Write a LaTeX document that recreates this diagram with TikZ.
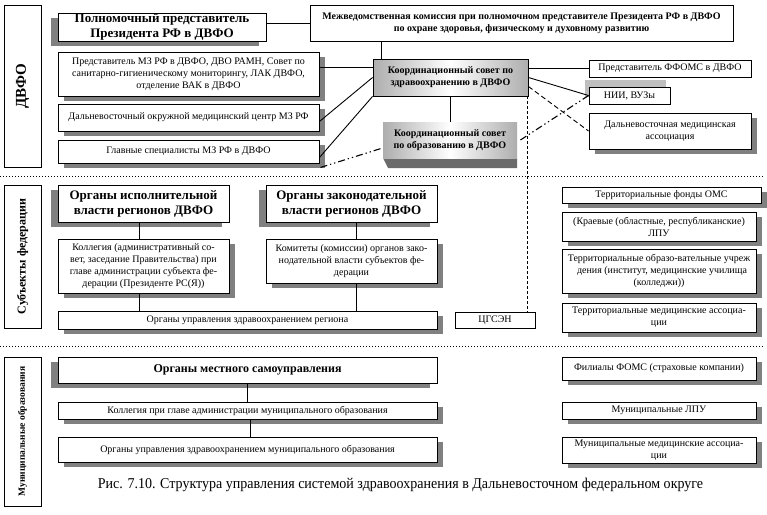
\documentclass[tikz,border=0pt]{standalone}
\usepackage{fontspec}
\usepackage{graphicx}
\setmainfont{Liberation Serif}
\usetikzlibrary{shadows,calc}
\newcommand{\mybox}[8][]{\node[#2,minimum width={(#6-#4)*1pt},minimum height={(#7-#5)*1pt},#1] (#3) at ({(#4+#6)/2},{(#5+#7)/2}) {#8};}
\begin{document}
\begin{tikzpicture}[x=1pt,y=-1pt,
  box/.style={draw,fill=white,line width=0.9pt,inner sep=0pt,align=center,font=\fontsize{10}{12}\selectfont},
  shad/.style={drop shadow={shadow xshift=6pt,shadow yshift=-5pt,fill=black!50,opacity=1}},
  lshad/.style={drop shadow={shadow xshift=-7pt,shadow yshift=-5pt,fill=black!50,opacity=1}},
  nshad/.style={drop shadow={shadow xshift=-4pt,shadow yshift=7pt,fill=black!25,opacity=1}},
  head/.style={font=\bfseries\fontsize{13}{15}\selectfont},
  bsmall/.style={font=\bfseries\fontsize{10}{12}\selectfont},
  grad/.style={left color=black!32,right color=black!32,middle color=white},
  lbl/.style={draw,line width=0.9pt,inner sep=0pt,rotate=90,font=\bfseries},
  conn/.style={line width=0.9pt},
  ddot/.style={line width=1.1pt,dash pattern=on 7pt off 3pt on 1.3pt off 3pt on 1.3pt off 3pt},
  dsh/.style={line width=0.9pt,dash pattern=on 5pt off 3pt},
  vdsh/.style={line width=0.8pt,dash pattern=on 3pt off 2pt},
  sep/.style={line width=1pt,dash pattern=on 1pt off 2pt}
]
\fill[white] (0,0) rectangle (767,514);
\useasboundingbox (0,0) rectangle (767,514);

% separators
\draw[sep] (0,176) -- (763,176);
\draw[sep] (0,346) -- (763,346);

% left labels
\node[lbl,minimum width=162pt,minimum height=37pt,font=\bfseries\fontsize{15}{17}\selectfont] (ldvfo) at (22.5,86) {ДВФО};
\node[lbl,minimum width=143pt,minimum height=37pt,font=\bfseries\fontsize{12}{14}\selectfont] (lsub) at (22.5,256.5) {Субъекты федерации};
\node[lbl,minimum width=149pt,minimum height=37pt,font=\bfseries\fontsize{9.5}{11}\selectfont] (lmun) at (22.5,431.5) {Муниципальные образования};

% ---- ДВФО ----
\mybox[lshad,head]{box}{polnom}{58}{13}{266}{41}{Полномочный представитель\\Президента РФ в ДВФО}
\mybox[bsmall]{box}{mezhved}{310}{5}{733}{41}{Межведомственная комиссия при полномочном представителе Президента РФ в ДВФО\\по охране здоровья, физическому и духовному развитию}
\mybox[shad]{box}{predst}{58}{52}{319}{96}{Представитель МЗ РФ в ДВФО, ДВО РАМН, Совет по\\санитарно-гигиеническому мониторингу, ЛАК ДВФО,\\отделение ВАК в ДВФО}
\mybox[shad]{box}{dvomc}{58}{104}{319}{131}{Дальневосточный окружной медицинский центр МЗ РФ}
\mybox[shad]{box}{glav}{58}{140}{319}{163}{Главные специалисты МЗ РФ в ДВФО}
\mybox[grad,bsmall]{box}{koord}{373}{59}{528}{96}{Координационный совет по\\здравоохранению в ДВФО}
\fill[black!58] (383,158) -- (517,158) -- (517,168) -- (388,168) -- cycle;
\mybox[grad,bsmall,draw=none]{box}{koordobr}{383}{122}{517}{158}{Координационный совет\\по образованию в ДВФО}
\mybox{box}{ffoms}{589}{60}{751}{77}{Представитель ФФОМС в ДВФО}
\mybox[nshad]{box}{nii}{589}{87}{670}{104}{НИИ, ВУЗы}
\mybox[shad]{box}{dvma}{589}{113}{751}{149}{Дальневосточная медицинская\\ассоциация}

% ---- Субъекты ----
\mybox[lshad,head]{box}{ispoln}{58}{185}{229}{222}{Органы исполнительной\\власти регионов ДВФО}
\mybox[lshad,head]{box}{zakon}{266}{185}{437}{222}{Органы законодательной\\власти регионов ДВФО}
\mybox[shad]{box}{kolleg}{58}{239}{229}{293}{Коллегия (административный со-\\вет, заседание Правительства) при\\главе администрации субъекта фе-\\дерации (Президенте РС(Я))}
\mybox[shad]{box}{komit}{266}{239}{437}{283}{Комитеты (комиссии) органов зако-\\нодательной власти субъектов фе-\\дерации}
\mybox[shad]{box}{orgreg}{58}{311}{437}{329}{Органы управления здравоохранением региона}
\mybox{box}{cgsen}{455}{312}{535}{328}{ЦГСЭН}
\mybox[shad]{box}{tfoms}{562}{187}{761}{203}{Территориальные фонды ОМС}
\mybox[shad]{box}{kraev}{562}{212}{756}{241}{(Краевые (областные, республиканские)\\ЛПУ}
\mybox[shad]{box}{terobr}{562}{249}{756}{293}{Территориальные образо-вательные учреж\\\hspace*{6pt}дения (институт, медицинские училища\\(колледжи))}
\mybox[shad]{box}{termed}{562}{303}{756}{332}{Территориальные медицинские ассоциа-\\ции}

% ---- Муниципальные ----
\mybox[lshad,font=\bfseries\fontsize{12}{14}\selectfont]{box}{mestn}{58}{357}{437}{383}{Органы местного самоуправления}
\mybox[shad]{box}{kolmun}{58}{402}{437}{419}{Коллегия при главе администрации муниципального образования}
\mybox[shad]{box}{orgmun}{58}{437}{437}{462}{Органы управления здравоохранением муниципального образования}
\mybox[shad]{box}{filial}{562}{357}{756}{380}{Филиалы ФОМС (страховые компании)}
\mybox[shad]{box}{munlpu}{562}{402}{756}{419}{Муниципальные ЛПУ}
\mybox[shad]{box}{munma}{562}{437}{756}{463}{Муниципальные медицинские ассоциа-\\ции}

% caption
\node[anchor=base,inner sep=0pt,font=\fontsize{15}{18}\selectfont] (cap) at (400.5,488) {\scalebox{0.935}[1]{Рис. 7.10. Структура управления системой здравоохранения в Дальневосточном федеральном округе}};

% ---- connectors ----
\draw[conn] (mezhved.west) -- (mezhved.west -| polnom.east);
\coordinate (kt) at ([xshift=9pt]koord.north west);
\draw[conn] (kt) -- (kt |- mezhved.south);
\coordinate (kl) at ([yshift=-9pt]koord.north west);
\draw[conn] (kl) -- (kl -| predst.east);
\draw[conn] ([yshift=-4pt]dvomc.east) -- (koord.west);
\draw[conn] ([yshift=-6pt]glav.east) -- (koord.south west);
\draw[conn] (koord.south) -- (koord.south |- koordobr.north);
\draw[conn] (ffoms.west) -- (ffoms.west -| koord.east);
\draw[conn] (koord.east) -- (nii.west);
\draw[dsh] ([yshift=-9pt]koord.east) -- (dvma.west);
\draw[ddot] ([shift={(1pt,-4pt)}]glav.south east) -- ([yshift=-8pt]koordobr.west);
\draw[ddot] ([xshift=3pt]koordobr.east) -- (nii.west);
\coordinate (vd) at ([xshift=-1pt]koord.south east);
\draw[vdsh] (vd) -- (vd |- cgsen.north);

\coordinate (c1) at ([xshift=-4.5pt]ispoln.south);
\draw[conn] (c1) -- (c1 |- kolleg.north);
\coordinate (c2) at ([xshift=-4.5pt]kolleg.south);
\draw[conn] (c2) -- (c2 |- orgreg.north);
\coordinate (c3) at ([xshift=4.5pt]zakon.south);
\draw[conn] (c3) -- (c3 |- komit.north);
\coordinate (c4) at ([xshift=4.5pt]komit.south);
\draw[conn] (c4) -- (c4 |- orgreg.north);

\draw[conn] (mestn.south) -- (kolmun.north);
\coordinate (c5) at ([xshift=2.5pt]kolmun.south);
\draw[conn] (c5) -- (c5 |- orgmun.north);
\end{tikzpicture}
\end{document}
